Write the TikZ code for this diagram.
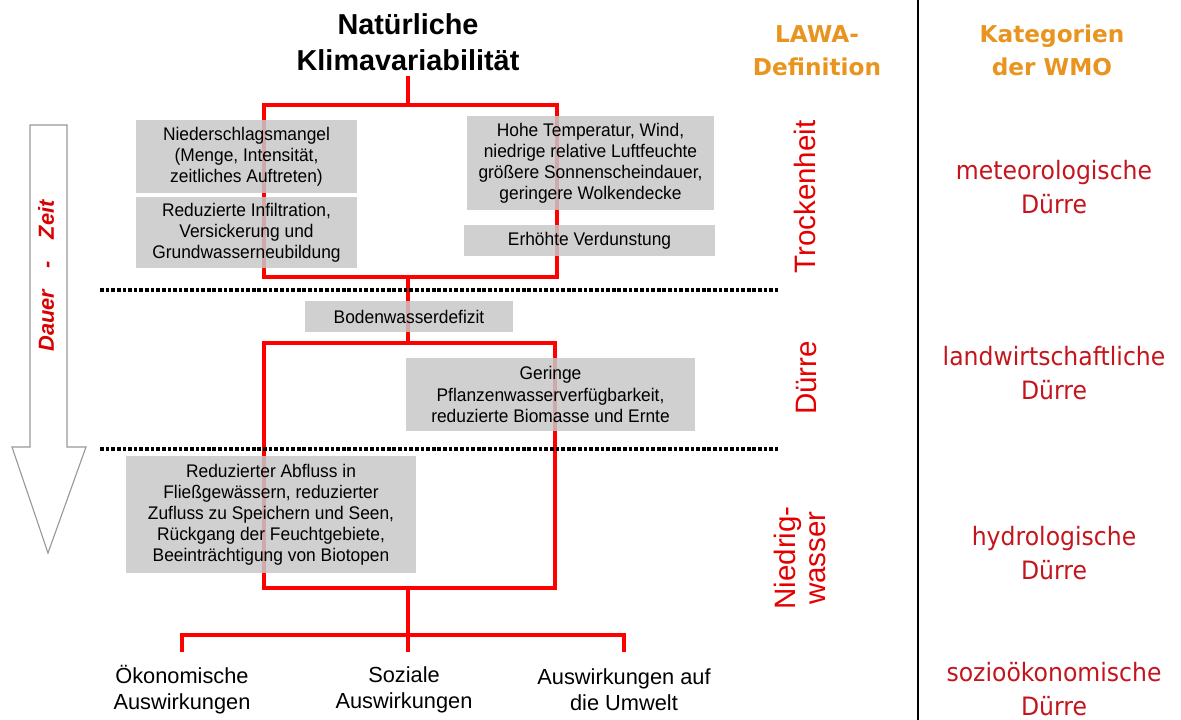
\documentclass[tikz,border=0pt]{standalone}
\usepackage{fontspec}
\setmainfont{Liberation Sans}
\newfontfamily\boxfont[FakeStretch=0.95]{Liberation Sans}
\newfontfamily\verd[FakeStretch=0.93]{DejaVu Sans}
\newfontfamily\verdhead{DejaVu Sans}
\usepackage{xcolor}
\definecolor{lawaorange}{RGB}{232,148,30}
\definecolor{wmored}{RGB}{196,20,28}
\definecolor{boxgray}{RGB}{200,200,200}

\begin{document}
\begin{tikzpicture}[x=0.025cm, y=-0.025cm,
    gbox/.style 2 args={fill=boxgray, fill opacity=0.85, text opacity=1,
      inner sep=0pt, align=center, minimum width=#1*0.025cm,
      minimum height=#2*0.025cm, font=\boxfont\fontsize{13}{15}\selectfont},
    redline/.style={red, line width=2.8pt},
    sepline/.style={line width=2.6pt, dash pattern=on 2.6pt off 1.4pt},
    lawa/.style={red!90!black, rotate=90, align=center,
      font=\fontsize{21}{21}\selectfont},
    wmo/.style={wmored, align=center, font=\verd\fontsize{18}{24}\selectfont},
    head/.style={lawaorange, align=center, font=\verdhead\bfseries\fontsize{16.5}{23.5}\selectfont},
    effect/.style={align=center, inner sep=0pt, font=\fontsize{15.5}{18.4}\selectfont}]
  \useasboundingbox (0,0) rectangle (1181,720);

  \node[font=\bfseries\fontsize{20.5}{26}\selectfont, align=center] (T) at (408,42)
    {Natürliche\\Klimavariabilität};

  \node[effect] (E1) at (182,690) {Ökonomische\\Auswirkungen};
  \node[effect] (E2) at (404,690) {Soziale\\Auswirkungen};
  \node[effect] (E3) at (624,690) {Auswirkungen auf\\die Umwelt};

  \coordinate (J1) at (408,105);
  \coordinate (L1) at (264,105);
  \coordinate (R1) at (557,105);
  \coordinate (L2) at (264,277);
  \coordinate (R2) at (557,277);
  \coordinate (J2) at (408,277);
  \coordinate (J3) at (408,343);
  \coordinate (L3) at (264,343);
  \coordinate (R3) at (555,343);
  \coordinate (L4) at (264,588);
  \coordinate (R4) at (555,588);
  \coordinate (J4) at (408,588);
  \coordinate (J5) at (408,635);
  \coordinate (K1) at (E1 |- 0,635);
  \coordinate (K3) at (E3 |- 0,635);
  \coordinate (D1) at (E1 |- 0,652);
  \coordinate (D2) at (408,652);
  \coordinate (D3) at (E3 |- 0,652);

  \draw[redline] (T.south) -- (J1);
  \draw[redline] (L2) -- (L1) -- (R1) -- (R2) -- cycle;
  \draw[redline] (J2) -- (J3);
  \draw[redline] (L4) -- (L3) -- (R3) -- (R4) -- cycle;
  \draw[redline] (J4) -- (J5);
  \draw[redline] (D1) -- (K1) -- (K3) -- (D3) (J5) -- (D2);

  \node[gbox={221}{73}] (P1) at (246.5,156.5)
    {Niederschlagsmangel\\(Menge, Intensität,\\zeitliches Auftreten)};
  \node[gbox={221}{71}] (P2) at (246.5,232.5)
    {Reduzierte Infiltration,\\Versickerung und\\Grundwasserneubildung};
  \node[gbox={247}{94}] (P3) at (590.5,163)
    {Hohe Temperatur, Wind,\\niedrige relative Luftfeuchte\\größere Sonnenscheindauer,\\geringere Wolkendecke};
  \node[gbox={251}{31}] (P4) at (589.5,240.5) {Erhöhte Verdunstung};
  \node[gbox={208}{31}] (B) at (409,316.5) {Bodenwasserdefizit};
  \node[gbox={289}{73}] (G) at (550.5,394.5)
    {Geringe\\Pflanzenwasserverfügbarkeit,\\reduzierte Biomasse und Ernte};
  \node[gbox={290}{117}] (A) at (271,514.5)
    {Reduzierter Abfluss in\\Fließgewässern, reduzierter\\Zufluss zu Speichern und Seen,\\Rückgang der Feuchtgebiete,\\Beeinträchtigung von Biotopen};

  \draw[sepline] (100,290) -- (778,290);
  \draw[sepline] (100,449) -- (778,449);

  \draw[gray!80, fill=white, line width=0.8pt]
    (30,125) -- (67,125) -- (67,447) -- (86,447) -- (48,553) -- (12,447) -- (30,447) -- cycle;
  \node[red!85!black, rotate=90, font=\bfseries\itshape\fontsize{15.5}{18}\selectfont] (DZ) at (46,276)
    {Dauer\quad-\quad Zeit};

  \node[head] (H1) at (817,51) {LAWA-\\Definition};
  \node[head] (H2) at (1052,50) {Kategorien\\der WMO};
  \draw[line width=1.5pt] (918,0) -- (918,720);

  \node[lawa] (W1) at (805,197) {Trockenheit};
  \node[lawa] (W2) at (806,378) {Dürre};
  \node[lawa] (W3) at (800,558) {Niedrig-\\wasser};

  \node[wmo] (M1) at (1054,187) {meteorologische\\Dürre};
  \node[wmo] (M2) at (1054,373) {landwirtschaftliche\\Dürre};
  \node[wmo] (M3) at (1054,553) {hydrologische\\Dürre};
  \node[wmo] (M4) at (1054,689) {sozioökonomische\\Dürre};
\end{tikzpicture}
\end{document}
